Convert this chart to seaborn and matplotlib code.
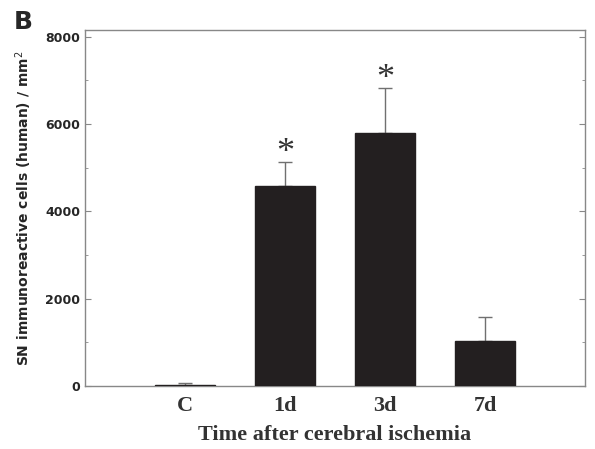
import numpy as np
import pandas as pd
import matplotlib
matplotlib.use("Agg")
import matplotlib.pyplot as plt
import seaborn as sns
from matplotlib.ticker import MultipleLocator

# values
groups = ["C", "1d", "3d", "7d"]
means = [30, 4570, 5800, 1020]
sems = [30, 550, 1020, 560]
signif = ["", "*", "*", ""]

df = pd.DataFrame({"group": groups, "cells": means})

sns.set_style("ticks")
fig = plt.figure(figsize=(5.95, 4.49), dpi=100)
ax = fig.add_axes([85 / 595, 1 - 386 / 449, 500 / 595, (386 - 30) / 449])

sns.barplot(data=df, x="group", y="cells", color="#231f20", width=0.6,
            saturation=1, ax=ax, edgecolor="#231f20", zorder=3)
# only the upper half of the error bar; the lower cap hides behind the bar
ax.errorbar(np.arange(len(groups)), means, yerr=[np.zeros(len(sems)), sems],
            fmt="none", ecolor="#707070", elinewidth=1, capsize=5, capthick=1,
            zorder=2)

for i, s in enumerate(signif):
    if s:
        ax.text(i, means[i] + sems[i] - 180, s, ha="center", va="bottom",
                fontsize=26, family="Liberation Serif", color="#333333")

ax.set_xlim(-1, 4)
ax.set_ylim(0, 8150)
ax.yaxis.set_major_locator(MultipleLocator(2000))
ax.yaxis.set_minor_locator(MultipleLocator(1000))
ax.tick_params(axis="y", which="both", direction="in", left=True, right=True,
               color="#888888")
ax.tick_params(axis="y", which="major", length=4, labelsize=9)
ax.tick_params(axis="y", which="minor", length=2)
ax.tick_params(axis="x", length=0, pad=7)
for lab in ax.get_yticklabels():
    lab.set_fontweight("bold")
for lab in ax.get_xticklabels():
    lab.set_family("Liberation Serif")
    lab.set_fontweight("bold")
    lab.set_fontsize(16)
    lab.set_color("#333333")

for sp in ax.spines.values():
    sp.set_color("#888888")
    sp.set_linewidth(1)

ax.set_xlabel("Time after cerebral ischemia", family="Liberation Serif",
              fontweight="bold", fontsize=16, color="#333333", labelpad=7)
ax.set_ylabel("SN immunoreactive cells (human) / mm$^2$", fontweight="bold",
              fontsize=10, labelpad=8)

fig.text(14 / 595, 1 - 22 / 449, "B", fontsize=18, fontweight="bold",
         va="center", ha="left")

fig.savefig("out.png", dpi=100)
